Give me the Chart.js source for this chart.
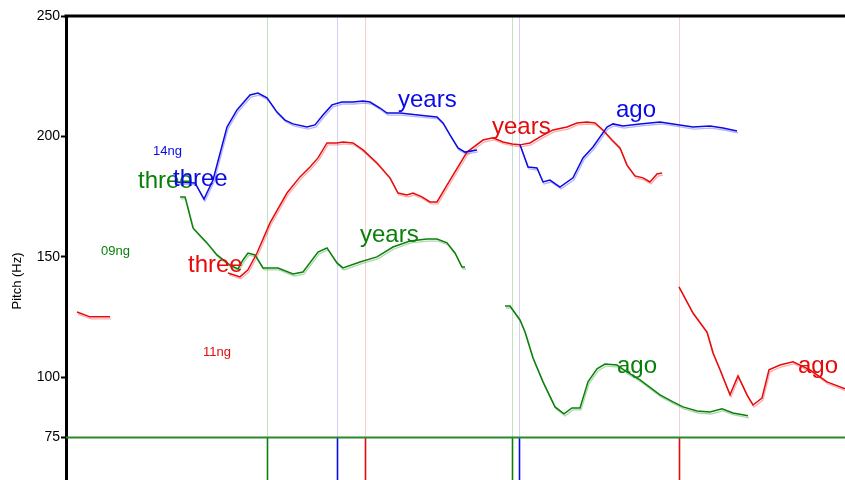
<!DOCTYPE html>
<html>
<head>
<meta charset="utf-8">
<script src="https://cdn.jsdelivr.net/npm/chart.js@4.4.1/dist/chart.umd.min.js"></script>
<style>
  html, body { margin: 0; padding: 0; background: #fff; }
  #wrap { width: 845px; height: 480px; }
</style>
</head>
<body>
<div id="wrap"><canvas id="pitch"></canvas></div>
<script>
// --- data (x = time position, y = pitch in Hz) ---
const yTicks = [250, 200, 150, 100, 75];

// blue speaker
const blueX1 = [175,195,204,213,227,237,250,258,267,277,285,293,307,315,323,332,342,353,363,370,380,387,400,427,437,443,450,458,465,477];
const blueY1 = [181.1,180.7,174.0,181.9,203.9,211.0,217.2,218.0,216.0,210.1,206.8,205.2,203.9,204.8,208.9,213.1,214.3,214.3,214.7,214.3,211.8,209.7,209.7,208.5,208.1,205.6,200.6,195.2,193.5,194.4];
const blueX2 = [520,528,537,543,550,560,573,583,593,607,613,623,640,660,673,693,710,723,737];
const blueY2 = [196.5,187.3,186.9,181.1,181.9,179.0,182.8,191.1,195.6,203.9,205.2,204.3,205.2,206.0,205.2,203.9,204.3,203.5,202.3];

// red speaker
const redX1 = [77,90,110];
const redY1 = [127.1,125.1,125.1];
const redX2 = [228,240,248,257,270,287,300,310,318,327,337,343,353,363,377,390,398,407,413,422,430,437,450,467,483,493,503,512,520,530,540,553,567,577,587,595,603,612,620,627,635,643,650,657,662];
const redY2 = [143.3,141.7,144.6,151.6,164.1,176.5,183.2,187.3,191.1,197.3,197.3,197.7,197.3,194.4,189.0,182.8,176.5,175.7,176.5,174.9,172.8,172.8,181.9,193.5,198.5,199.4,197.7,196.9,196.5,197.3,199.8,202.7,203.9,205.6,206.0,205.6,202.7,198.5,195.2,188.1,183.6,182.8,181.1,184.4,184.8];
const redX3 = [679,693,707,713,720,730,738,747,753,762,769,780,793,810,827,845];
const redY3 = [137.5,126.7,118.8,110.1,103.1,92.7,100.6,92.7,88.5,91.4,103.1,105.1,106.4,103.1,98.1,95.2];

// green speaker
const greenX1 = [180,185,193,207,217,230,238,243,248,255,263,278,293,303,318,327,337,343,360,377,393,410,427,437,447,455,462,465];
const greenY1 = [174.9,174.9,162.0,155.8,150.8,146.6,145.0,148.7,151.6,150.8,145.4,145.4,142.9,143.7,152.0,153.7,147.5,145.4,147.9,150.0,154.1,156.6,157.4,157.4,155.8,151.6,145.8,145.8];
const greenX2 = [505,510,520,525,533,543,555,564,572,580,588,597,605,617,627,640,660,673,683,697,710,722,733,748];
const greenY2 = [129.6,129.6,123.8,118.8,108.0,98.1,87.7,84.8,87.3,87.3,98.1,103.5,105.5,105.1,102.2,98.9,92.7,89.8,87.7,86.0,85.6,86.9,85.2,84.0];

// boundary markers and word labels
const markerX = [267,337,365,512,519,679];
const markerSpk = ['green','blue','red','green','blue','red'];
const wordText = ['14ng','three','three','09ng','three','11ng','years','years','ago','years','ago','ago'];
const wordX    = [153,138,173,101,188,203,398,492,616,360,617,798];
const wordHz   = [192.3,178.6,179.4,150.8,143.7,108.9,212.2,201.0,208.1,156.2,101.8,101.8];
const wordSpk  = ['blue','green','blue','green','red','red','blue','red','blue','green','green','red'];
const wordSmall = [true,false,false,true,false,true,false,false,false,false,false,false];

const FONT = '"Liberation Sans", Arial, sans-serif';

// colours
const COL = { blue: '#0a0ae6', red: '#e60a0a', green: '#0a800a' };
const FAINT = { blue: 'rgba(40,40,230,0.22)', red: 'rgba(230,30,30,0.22)', green: 'rgba(20,140,20,0.25)' };
const SHADOW = { blue: 'rgba(40,40,230,0.35)', red: 'rgba(230,30,30,0.35)', green: 'rgba(20,140,20,0.35)' };

function pts(xs, ys) { return xs.map((x, i) => ({ x: x, y: ys[i] })); }

const segments = [
  ['blue', blueX1, blueY1], ['blue', blueX2, blueY2],
  ['red', redX1, redY1], ['red', redX2, redY2], ['red', redX3, redY3],
  ['green', greenX1, greenY1], ['green', greenX2, greenY2]
];

const datasets = [];
segments.forEach(s => {
  datasets.push({ data: pts(s[1], s[2]), borderColor: SHADOW[s[0]], borderWidth: 1.3, shadow: true, order: 2 });
  datasets.push({ data: pts(s[1], s[2]), borderColor: COL[s[0]], borderWidth: 1.5, order: 1 });
});

// draws the faint word boundaries, the 75 Hz line, the frame and the texts
const decorations = {
  id: 'decorations',
  beforeDatasetsDraw(chart) {
    const ctx = chart.ctx, a = chart.chartArea;
    const xs = chart.scales.x, ys = chart.scales.y;
    const base = ys.getPixelForValue(75);
    ctx.save();
    markerX.forEach((v, i) => {
      const px = Math.round(xs.getPixelForValue(v)) + 0.5;
      ctx.strokeStyle = FAINT[markerSpk[i]];
      ctx.lineWidth = 1;
      ctx.beginPath(); ctx.moveTo(px, a.top); ctx.lineTo(px, base); ctx.stroke();
      ctx.strokeStyle = COL[markerSpk[i]];
      ctx.lineWidth = 1.6;
      ctx.beginPath(); ctx.moveTo(px, base); ctx.lineTo(px, a.bottom); ctx.stroke();
    });
    ctx.strokeStyle = '#2a8a2a';
    ctx.lineWidth = 2;
    ctx.beginPath(); ctx.moveTo(a.left, base); ctx.lineTo(a.right, base); ctx.stroke();
    ctx.restore();
  },
  beforeDatasetDraw(chart, args) {
    const ds = chart.data.datasets[args.index];
    chart.ctx.save();
    if (ds.shadow) chart.ctx.translate(1, 2);
  },
  afterDatasetDraw(chart) {
    chart.ctx.restore();
  },
  afterDatasetsDraw(chart) {
    const ctx = chart.ctx, a = chart.chartArea;
    const xs = chart.scales.x, ys = chart.scales.y;
    ctx.save();
    wordText.forEach((t, i) => {
      ctx.font = (wordSmall[i] ? '13px ' : '24px ') + FONT;
      ctx.fillStyle = COL[wordSpk[i]];
      ctx.textAlign = 'left';
      ctx.textBaseline = 'alphabetic';
      ctx.fillText(t, xs.getPixelForValue(wordX[i]), ys.getPixelForValue(wordHz[i]));
    });
    ctx.strokeStyle = '#000';
    ctx.lineWidth = 3;
    ctx.beginPath(); ctx.moveTo(a.left - 1.5, a.top); ctx.lineTo(a.right, a.top); ctx.stroke();

    // axis title sits a little below the middle, as in the original
    ctx.translate(17, 281);
    ctx.rotate(-Math.PI / 2);
    ctx.font = '13px ' + FONT;
    ctx.fillStyle = '#000';
    ctx.textAlign = 'center';
    ctx.textBaseline = 'middle';
    ctx.fillText('Pitch (Hz)', 0, 0);
    ctx.restore();
  }
};

new Chart(document.getElementById('pitch'), {
  type: 'line',
  data: { datasets: datasets },
  options: {
    responsive: true,
    maintainAspectRatio: false,
    animation: false,
    layout: { padding: { top: 16, left: 0, right: 0, bottom: 0 } },
    elements: { point: { radius: 0 }, line: { tension: 0 } },
    plugins: { legend: { display: false }, tooltip: { enabled: false } },
    scales: {
      x: { type: 'linear', min: 66, max: 845, display: false },
      y: {
        type: 'linear',
        min: 57.36,
        max: 250,
        afterBuildTicks: (scale) => { scale.ticks = yTicks.map(v => ({ value: v })); },
        afterFit: (scale) => { scale.width = 66; scale.paddingTop = 0; scale.paddingBottom = 0; },
        border: { display: true, width: 3, color: '#000' },
        grid: { drawOnChartArea: false, drawTicks: true, tickLength: 5, tickWidth: 2, tickColor: '#000' },
        ticks: { color: '#000', padding: 1, font: { family: FONT, size: 14 } },
        title: { display: false }
      }
    }
  },
  plugins: [decorations]
});
</script>
</body>
</html>
